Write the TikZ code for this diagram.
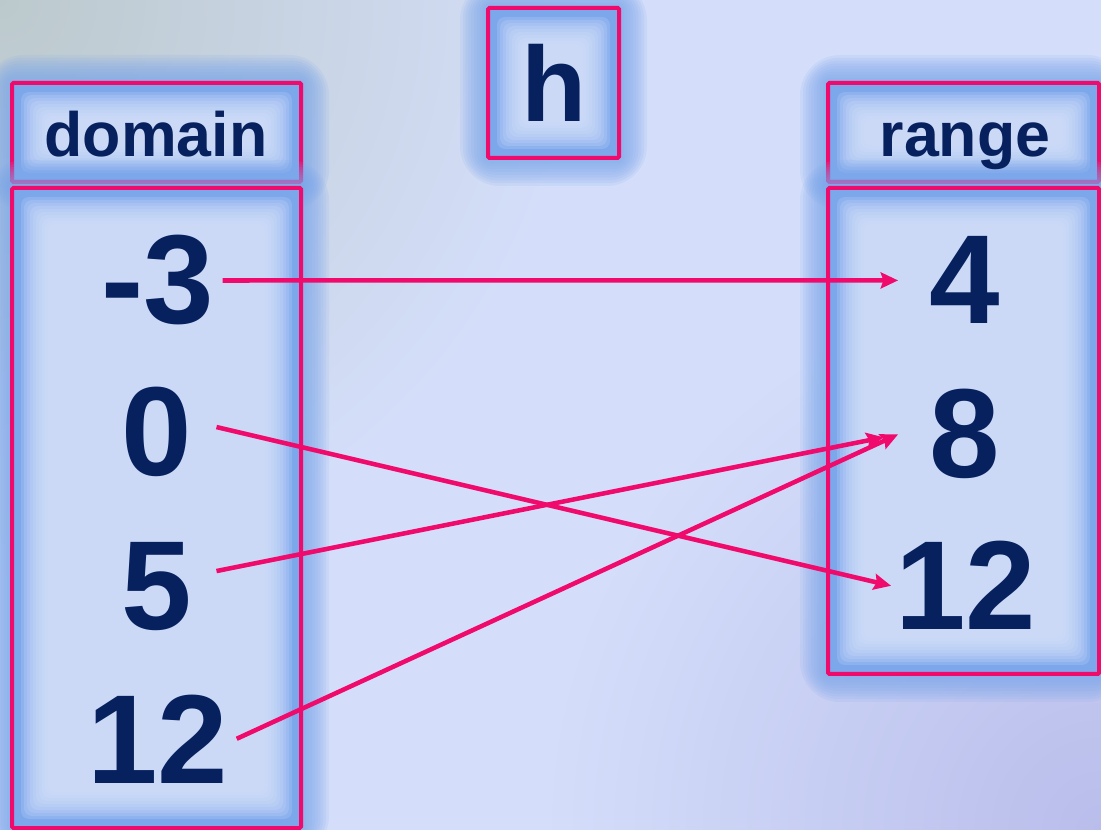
\documentclass[tikz,border=0pt]{standalone}
\usepackage{fontspec}
\setmainfont{Liberation Sans}
\usetikzlibrary{arrows.meta}

\definecolor{navy}{HTML}{06215E}
\definecolor{hotpink}{HTML}{F00A6C}
\definecolor{paper}{HTML}{D4DEFA}
\definecolor{corner}{HTML}{BCC9CC}
\definecolor{lilac}{HTML}{B9BDEB}
\definecolor{glow}{HTML}{7CA7EB}
\definecolor{pale}{HTML}{D6E1FB}

% box with a soft blue halo, lighter in the middle
\newcommand{\glowbox}[4]{%
  \foreach \g in {1,...,10}
    \fill[glow,opacity=0.13,rounded corners={3pt*\g}]
      ({#1-\g*2.8},{#2-\g*2.8}) rectangle ({#3+\g*2.8},{#4+\g*2.8});
  \fill[glow] (#1,#2) rectangle (#3,#4);
  \foreach \g in {1,...,10}
    \fill[pale,opacity=0.2,rounded corners=6pt]
      ({#1+6+\g*3},{#2+6+\g*3}) rectangle ({#3-6-\g*3},{#4-6-\g*3});
  \draw[hotpink,line width=3pt,rounded corners=1pt] (#1,#2) rectangle (#3,#4);
}

\begin{document}
\begin{tikzpicture}[x=0.75pt,y=-0.75pt]
\tikzstyle{every node}=[text=navy]
\tikzstyle{head}=[font=\fontsize{47}{50}\selectfont\bfseries,anchor=base]
\tikzstyle{num}=[font=\fontsize{95}{100}\selectfont\bfseries,anchor=base,inner sep=6pt]
\tikzstyle{img}=[num,minimum width=112pt,inner sep=0pt]
\tikzstyle{maps}=[hotpink,line width=3.4pt,-{Stealth[length=13pt,width=12pt,inset=2pt]}]

\useasboundingbox (0,0) rectangle (1101,830);
\clip (0,0) rectangle (1101,830);

% background
\fill[paper] (0,0) rectangle (1101,830);
\shade[inner color=corner,outer color=paper] (0,0) circle (580);
\shade[inner color=lilac,outer color=paper] (1101,830) circle (560);

% boxes
\glowbox{12}{83}{301}{182}
\glowbox{12}{188}{301}{828}
\glowbox{488}{8}{619}{158}
\glowbox{828}{83}{1099}{182}
\glowbox{828}{188}{1099}{674}

% labels
\node[head] (dom) at (156,157) {domain};
\node[head] (ran) at (965,157) {range};
\node[head,font=\fontsize{80}{84}\selectfont\bfseries] (fn) at (554,122) {h};

% domain values
\node[num] (d1) at (158,324) {-3};
\node[num] (d2) at (157,476) {0};
\node[num] (d3) at (157,630) {5};
\node[num] (d4) at (158,783) {12};

% range values
\node[img] (r1) at (965,324) {4};
\node[img] (r2) at (965,478) {8};
\node[img] (r3) at (966,630) {12};

% arrows
\draw[maps] (d1.east) -- ([xshift=6pt]r1.west);
\draw[maps] ([xshift=12pt,yshift=4pt]d2.east) -- (r3.west);
\draw[maps,shorten >=11pt] ([xshift=12pt,yshift=12pt]d3.east) -- ([xshift=6pt]r2.west);
\draw[maps] (d4.east) -- ([xshift=6pt]r2.west);
\end{tikzpicture}
\end{document}
